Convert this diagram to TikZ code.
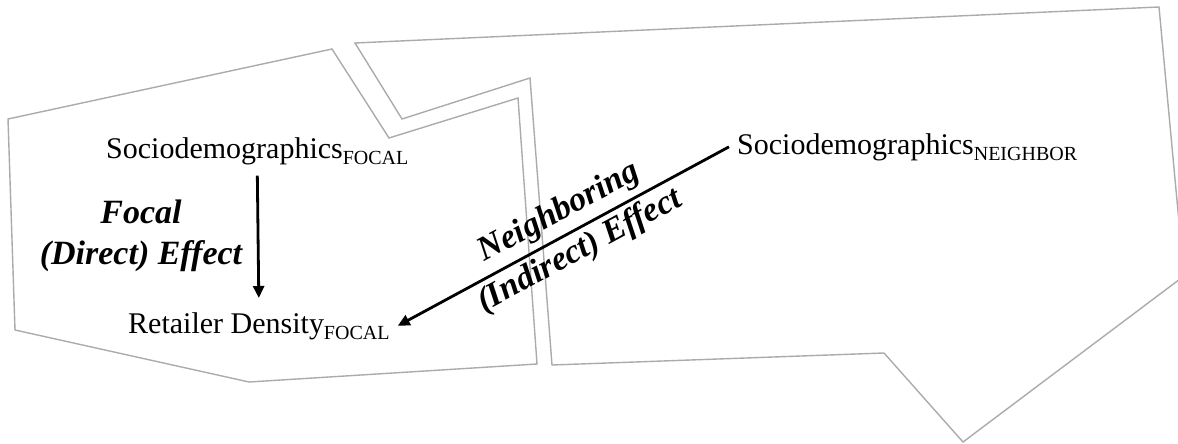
\documentclass[tikz,border=0pt]{standalone}
\usepackage{fontspec}
\setmainfont{Liberation Serif}
\usetikzlibrary{arrows.meta}
\usetikzlibrary{positioning}

\newcommand{\sublabel}[1]{\raisebox{-6pt}{\fontsize{20}{20}\selectfont #1}}

\begin{document}
\begin{tikzpicture}[
    x=1pt, y=-1pt,
    zone/.style={
        draw=black!33,
        line width=1.4pt
    },
    var/.style={
        inner sep=8pt,
        anchor=base west,
        font=\fontsize{30}{36}\selectfont
    },
    myarrow/.style={
        -{Triangle[length=12pt, width=11pt]},
        line width=2.8pt
    },
    effect/.style={
        font=\fontsize{34}{41}\selectfont\bfseries\itshape,
        align=center,
        inner sep=0pt
    }
]
\useasboundingbox (0,0) rectangle (1178,444);
\clip (0,0) rectangle (1178,444);

% Focal area and neighboring area
\draw[zone] (8,119) -- (332,49) -- (389,138) -- (518,98) -- (537,364) -- (249,382) -- (15,330) -- cycle;
\draw[zone] (355,43) -- (1159,7) -- (1184,276) -- (963,442) -- (884,353) -- (552,365) -- (530,78) -- (402,119) -- cycle;

% Variables
\node[var] (focalsoc) at (98,158) {Sociodemographics\sublabel{FOCAL}};
\node[var] (focalret) at (120,333) {Retailer Density\sublabel{FOCAL}};
\node[var] (neighsoc) at (729,154) {Sociodemographics\sublabel{NEIGHBOR}};

% Effects
\draw[myarrow, shorten <=3pt, shorten >=6pt] (focalsoc.south) -- (focalret.north);
\node[effect] (focallbl) at (141,236) {Focal\\(Direct) Effect};
\draw[myarrow] (neighsoc.west) -- (focalret.east)
    node[effect, pos=0.48, rotate=28.3, anchor=south, inner sep=6pt] (neighlbl) {Neighboring}
    node[effect, pos=0.48, rotate=28.3, anchor=north, inner sep=4pt] (indirlbl) {(Indirect) Effect};
\end{tikzpicture}
\end{document}
